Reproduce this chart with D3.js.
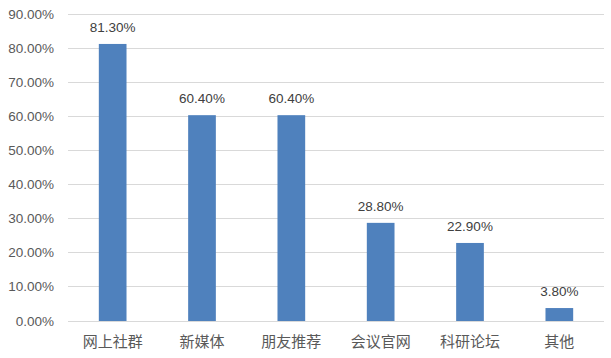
<!DOCTYPE html>
<html><head><meta charset="utf-8">
<script src="https://cdn.jsdelivr.net/npm/d3@7"></script>
<style>body{margin:0;background:#fff}</style>
</head><body>
<svg id="c" width="611" height="358"></svg>
<script>
const categories = ["网上社群","新媒体","朋友推荐","会议官网","科研论坛","其他"];
const values = [81.3, 60.4, 60.4, 28.8, 22.9, 3.8];
const yTicks = [0,10,20,30,40,50,60,70,80,90];

const svg = d3.select("#c");
const x = d3.scaleBand().domain(categories).range([68,604]).paddingInner(0.69).paddingOuter(0.345);
const y = d3.scaleLinear().domain([0,90]).range([321,14.3]);

svg.append("g").selectAll("line").data(yTicks).join("line")
  .attr("x1",68).attr("x2",604)
  .attr("y1",d=>y(d)).attr("y2",d=>y(d))
  .attr("stroke","#d9d9d9").attr("stroke-width",1).attr("shape-rendering","crispEdges");

svg.append("g").selectAll("text").data(yTicks).join("text")
  .attr("x",54).attr("y",d=>y(d)+4.5).attr("text-anchor","end")
  .attr("font-family","Liberation Sans, Arial, sans-serif").attr("font-size",13.5)
  .attr("fill","#595959").text(d=>d.toFixed(2)+"%");

svg.append("g").selectAll("rect").data(values).join("rect")
  .attr("x",(d,i)=>x(categories[i])).attr("width",x.bandwidth())
  .attr("y",d=>y(d)).attr("height",d=>y(0)-y(d)).attr("fill","#4f81bd");

svg.append("g").selectAll("text").data(values).join("text")
  .attr("x",(d,i)=>x(categories[i])+x.bandwidth()/2).attr("y",d=>y(d)-12)
  .attr("text-anchor","middle")
  .attr("font-family","Liberation Sans, Arial, sans-serif").attr("font-size",13.5)
  .attr("fill","#404040").text(d=>d.toFixed(2)+"%");

svg.append("g").selectAll("text").data(categories).join("text")
  .attr("x",d=>x(d)+x.bandwidth()/2).attr("y",347)
  .attr("text-anchor","middle")
  .attr("font-family","Noto Sans CJK SC, sans-serif").attr("font-size",15)
  .attr("fill","#595959").text(d=>d);
</script>
</body></html>
